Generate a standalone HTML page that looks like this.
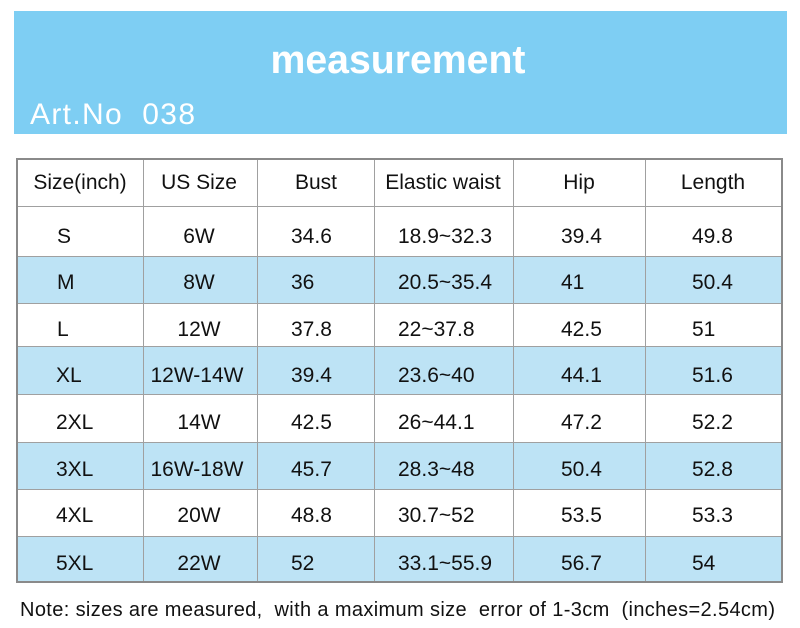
<!DOCTYPE html>
<html><head><meta charset="utf-8">
<style>
html,body{margin:0;padding:0;background:#fff;}
svg{display:block;}
text{font-family:"Liberation Sans","Noto Sans CJK SC",sans-serif;}
</style></head>
<body>
<svg width="800" height="628" viewBox="0 0 800 628" xmlns="http://www.w3.org/2000/svg">
<rect x="0" y="0" width="800" height="628" fill="#fff"/>
<rect x="14" y="11" width="773" height="123" fill="#7ecef3"/>
<text x="398" y="73" text-anchor="middle" font-size="40" font-weight="bold" fill="#fff" textLength="255" lengthAdjust="spacingAndGlyphs">measurement</text>
<text x="30" y="124" font-size="30" fill="#fff" letter-spacing="1" xml:space="preserve" textLength="166" lengthAdjust="spacing">Art.No  038</text>

<!-- blue rows -->
<g fill="#bde3f5">
<rect x="17" y="256" width="765" height="47"/>
<rect x="17" y="346" width="765" height="48"/>
<rect x="17" y="442" width="765" height="47"/>
<rect x="17" y="536" width="765" height="46"/>
</g>
<!-- grid lines -->
<g stroke="#a0a0a0" stroke-width="1">
<line x1="17" y1="206.5" x2="782" y2="206.5"/>
<line x1="17" y1="256.5" x2="782" y2="256.5"/>
<line x1="17" y1="303.5" x2="782" y2="303.5"/>
<line x1="17" y1="346.5" x2="782" y2="346.5"/>
<line x1="17" y1="394.5" x2="782" y2="394.5"/>
<line x1="17" y1="442.5" x2="782" y2="442.5"/>
<line x1="17" y1="489.5" x2="782" y2="489.5"/>
<line x1="17" y1="536.5" x2="782" y2="536.5"/>
<line x1="143.5" y1="158" x2="143.5" y2="582"/>
<line x1="257.5" y1="158" x2="257.5" y2="582"/>
<line x1="374.5" y1="158" x2="374.5" y2="582"/>
<line x1="513.5" y1="158" x2="513.5" y2="582"/>
<line x1="645.5" y1="158" x2="645.5" y2="582"/>
</g>
<rect x="17" y="159" width="765" height="423" fill="none" stroke="#8a8a8a" stroke-width="2"/>

<g font-size="21" fill="#111">
<text x="80" y="189" text-anchor="middle">Size(inch)</text>
<text x="199" y="189" text-anchor="middle">US Size</text>
<text x="316" y="189" text-anchor="middle">Bust</text>
<text x="443" y="189" text-anchor="middle">Elastic waist</text>
<text x="579" y="189" text-anchor="middle">Hip</text>
<text x="713" y="189" text-anchor="middle">Length</text>

<text x="57" y="243">S</text><text x="199" y="243" text-anchor="middle">6W</text><text x="291" y="243">34.6</text><text x="398" y="243">18.9~32.3</text><text x="561" y="243">39.4</text><text x="692" y="243">49.8</text>
<text x="57" y="289">M</text><text x="199" y="289" text-anchor="middle">8W</text><text x="291" y="289">36</text><text x="398" y="289">20.5~35.4</text><text x="561" y="289">41</text><text x="692" y="289">50.4</text>
<text x="57" y="336">L</text><text x="199" y="336" text-anchor="middle">12W</text><text x="291" y="336">37.8</text><text x="398" y="336">22~37.8</text><text x="561" y="336">42.5</text><text x="692" y="336">51</text>
<text x="56" y="382">XL</text><text x="197" y="382" text-anchor="middle">12W-14W</text><text x="291" y="382">39.4</text><text x="398" y="382">23.6~40</text><text x="561" y="382">44.1</text><text x="692" y="382">51.6</text>
<text x="56" y="429">2XL</text><text x="199" y="429" text-anchor="middle">14W</text><text x="291" y="429">42.5</text><text x="398" y="429">26~44.1</text><text x="561" y="429">47.2</text><text x="692" y="429">52.2</text>
<text x="56" y="476">3XL</text><text x="197" y="476" text-anchor="middle">16W-18W</text><text x="291" y="476">45.7</text><text x="398" y="476">28.3~48</text><text x="561" y="476">50.4</text><text x="692" y="476">52.8</text>
<text x="56" y="522">4XL</text><text x="199" y="522" text-anchor="middle">20W</text><text x="291" y="522">48.8</text><text x="398" y="522">30.7~52</text><text x="561" y="522">53.5</text><text x="692" y="522">53.3</text>
<text x="56" y="570">5XL</text><text x="199" y="570" text-anchor="middle">22W</text><text x="291" y="570">52</text><text x="398" y="570">33.1~55.9</text><text x="561" y="570">56.7</text><text x="692" y="570">54</text>
</g>

<text x="20" y="616" font-size="20" fill="#111" xml:space="preserve" textLength="755" lengthAdjust="spacing">Note: sizes are measured,  with a maximum size  error of 1-3cm  (inches=2.54cm)</text>
</svg>
</body></html>
